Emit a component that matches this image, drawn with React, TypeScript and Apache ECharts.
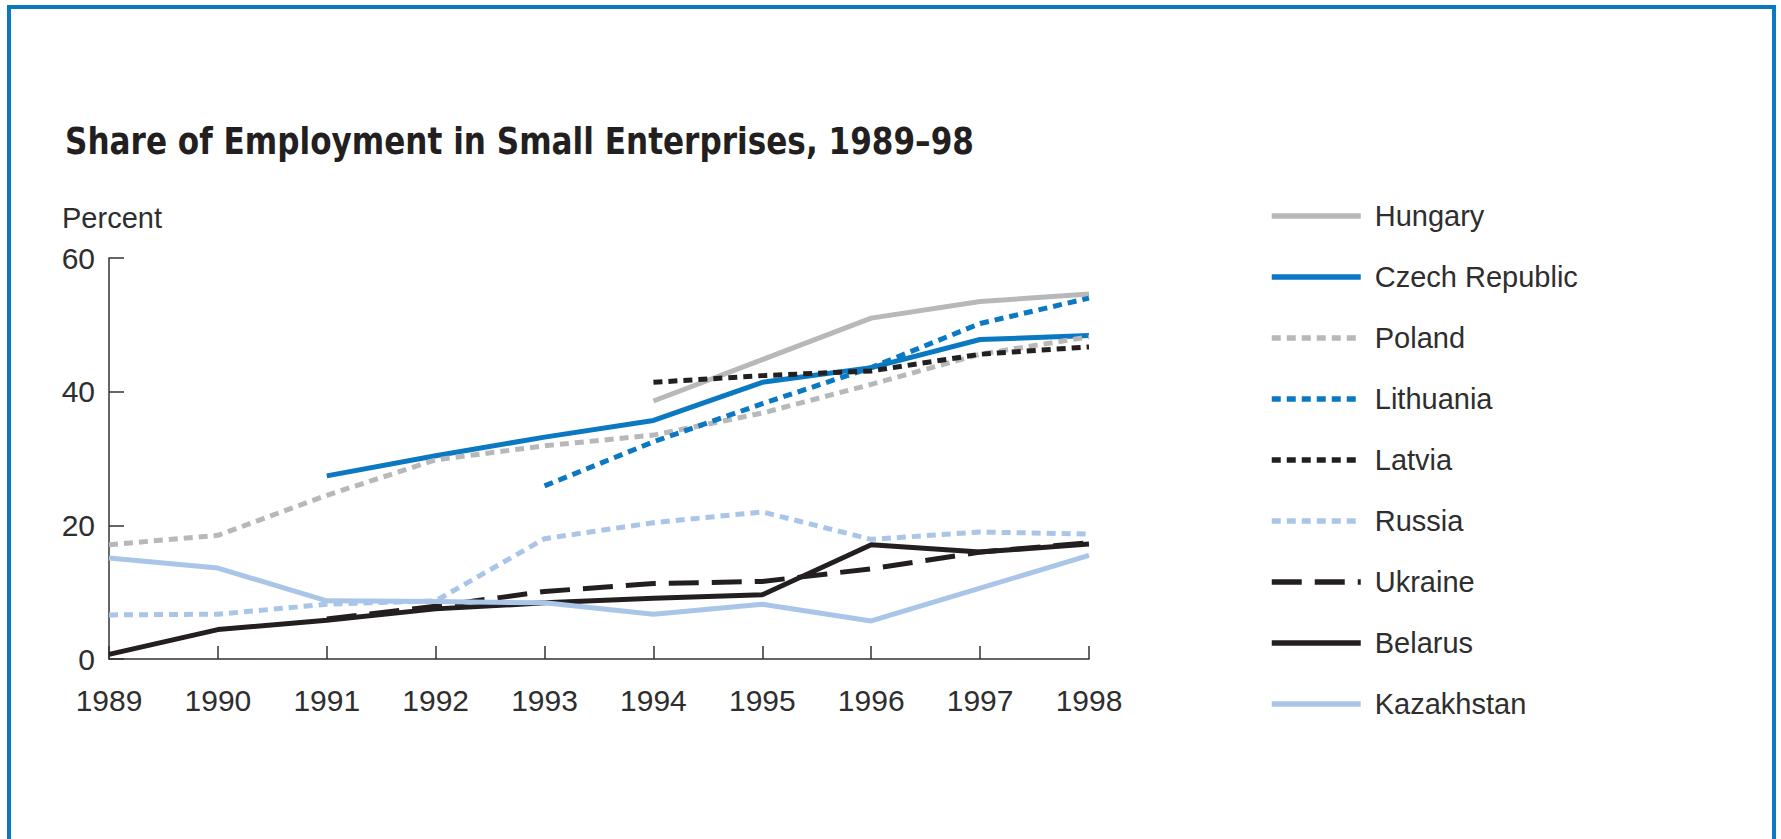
import React, { useEffect, useRef } from "react";
import * as echarts from "echarts";

const years = ["1989", "1990", "1991", "1992", "1993", "1994", "1995", "1996", "1997", "1998"];
const yTicks = [0, 20, 40, 60];

const hungary = [null, null, null, null, null, 38.6, 44.8, 51.0, 53.5, 54.6];
const czech = [null, null, 27.4, 30.4, 33.2, 35.7, 41.4, 43.6, 47.8, 48.4];
const poland = [17.1, 18.5, 24.5, 29.8, 31.9, 33.5, 36.8, 41.1, 45.6, 48.2];
const lithuania = [null, null, null, null, 25.9, 32.5, 38.2, 43.6, 50.2, 54.0];
const latvia = [null, null, null, null, null, 41.4, 42.4, 43.1, 45.6, 46.7];
const russia = [6.6, 6.7, 8.2, 8.7, 18.0, 20.4, 22.0, 17.9, 19.0, 18.7];
const ukraine = [null, null, 6.0, 7.9, 10.1, 11.3, 11.6, 13.5, 16.0, 17.4];
const belarus = [0.7, 4.4, 5.8, 7.5, 8.4, 9.1, 9.6, 17.1, 16.0, 17.2];
const kazakhstan = [15.1, 13.6, 8.7, 8.6, 8.4, 6.7, 8.2, 5.7, 10.6, 15.5];

const BLUE = "#0a79c2";
const GRAY = "#b7b8ba";
const LIGHT = "#a9c5e7";
const BLACK = "#231f20";
const FONT = "'Liberation Sans', Arial, sans-serif";
const TXT = "#2e2e2e";

const DOT = [9, 6];
const DASH = [30, 13];

const seriesDefs = [
  { name: "Hungary", data: hungary, color: GRAY, type: "solid" as any },
  { name: "Czech Republic", data: czech, color: BLUE, type: "solid" as any },
  { name: "Poland", data: poland, color: GRAY, type: DOT as any },
  { name: "Lithuania", data: lithuania, color: BLUE, type: DOT as any },
  { name: "Latvia", data: latvia, color: BLACK, type: DOT as any },
  { name: "Russia", data: russia, color: LIGHT, type: DOT as any },
  { name: "Ukraine", data: ukraine, color: BLACK, type: DASH as any },
  { name: "Belarus", data: belarus, color: BLACK, type: "solid" as any },
  { name: "Kazakhstan", data: kazakhstan, color: LIGHT, type: "solid" as any },
];

export default function App() {
  const ref = useRef<HTMLDivElement>(null);
  useEffect(() => {
    if (!ref.current) return;
    const chart = echarts.init(ref.current, null, { renderer: "svg" });
    chart.setOption({
      animation: false,
      backgroundColor: "#ffffff",
      graphic: [
        {
          type: "rect",
          shape: { x: 9, y: 7, width: 1765, height: 900 },
          style: { fill: "none", stroke: BLUE, lineWidth: 4 },
          silent: true,
        },
        {
          type: "text",
          x: 65,
          y: 141,
          scaleX: 0.91,
          style: {
            text: "Share of Employment in Small Enterprises, 1989\u201398",
            fontFamily: "'DejaVu Sans Condensed', 'DejaVu Sans', sans-serif",
            fontWeight: "bold",
            fontSize: 38,
            fill: "#231f20",
            textVerticalAlign: "middle",
          },
        },
        {
          type: "text",
          x: 62,
          y: 218,
          style: {
            text: "Percent",
            fontFamily: FONT,
            fontSize: 29,
            fill: TXT,
            textVerticalAlign: "middle",
          },
        },
      ],
      legend: {
        orient: "vertical",
        left: 1269,
        top: 201,
        padding: 0,
        itemWidth: 89,
        itemHeight: 30,
        itemGap: 31,
        itemStyle: { opacity: 0 },
        lineStyle: { width: 5.5 },
        textStyle: {
          fontFamily: FONT,
          fontSize: 29,
          color: TXT,
          lineHeight: 30,
          padding: [0, 0, 0, 9],
        },
        data: seriesDefs.map((s) => s.name),
      },
      grid: { left: 109, right: 692, top: 258, bottom: 180, containLabel: false },
      xAxis: {
        type: "category",
        data: years,
        boundaryGap: false,
        axisLine: { lineStyle: { color: "#333333", width: 1.5 } },
        axisTick: { inside: true, length: 13, lineStyle: { color: "#333333", width: 1.5 } },
        axisLabel: { fontFamily: FONT, fontSize: 30, color: TXT, margin: 26 },
        splitLine: { show: false },
      },
      yAxis: {
        type: "value",
        min: yTicks[0],
        max: yTicks[yTicks.length - 1],
        interval: 20,
        axisLine: { show: true, lineStyle: { color: "#333333", width: 1.5 } },
        axisTick: { show: true, inside: true, length: 15, lineStyle: { color: "#333333", width: 1.5 } },
        axisLabel: { fontFamily: FONT, fontSize: 30, color: TXT, margin: 14 },
        splitLine: { show: false },
      },
      series: seriesDefs.map((s) => ({
        name: s.name,
        type: "line",
        data: s.data,
        symbol: "none",
        connectNulls: false,
        color: s.color,
        lineStyle: { color: s.color, width: 5, type: s.type },
      })),
    });
    return () => chart.dispose();
  }, []);
  return (
    <div
      ref={ref}
      style={{ position: "fixed", left: 0, top: 0, width: 1781, height: 839 }}
    />
  );
}
